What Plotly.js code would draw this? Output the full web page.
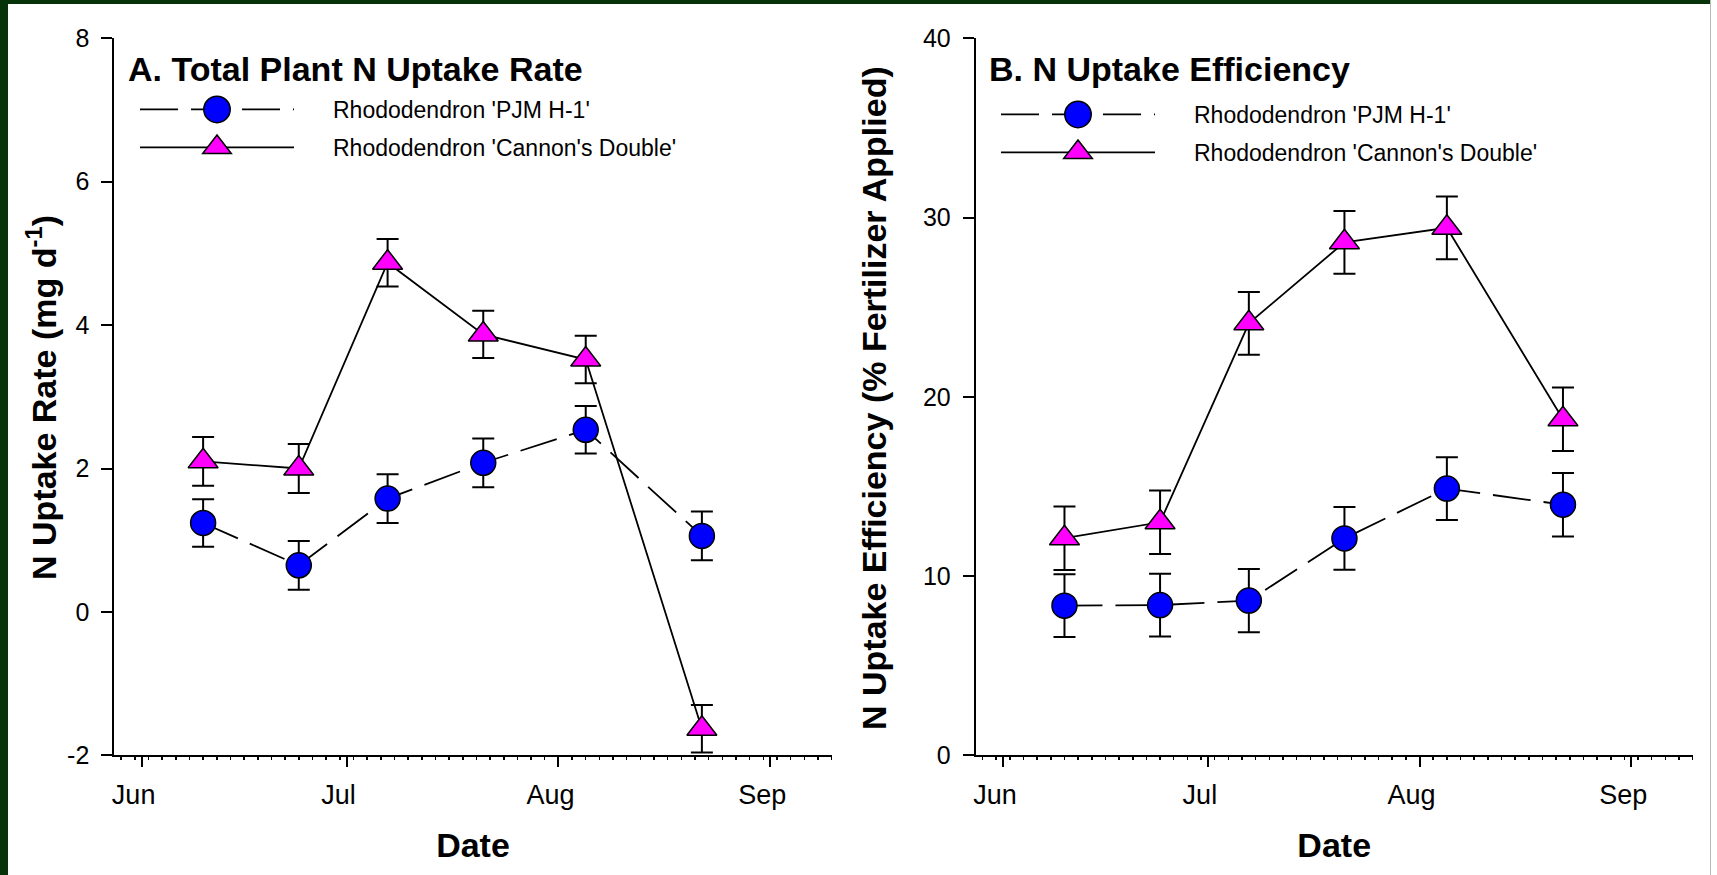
<!DOCTYPE html>
<html>
<head>
<meta charset="utf-8">
<script src="https://cdn.plot.ly/plotly-3.0.1.min.js"></script>
<style>
html,body{margin:0;padding:0;background:#fff;}
#wrap{position:relative;width:1717px;height:875px;overflow:hidden;background:#fff;}
#chart{position:absolute;left:0;top:0;width:1717px;height:875px;}
.band{position:absolute;background:#06330a;}
/* legend: longer sample line, text placed clear of it */
#chart text.legendtext, #chart text.legend2text{transform:translate(34px,0px);}
#chart g.scrollbox{clip-path:none !important;}
</style>
</head>
<body>
<div id="wrap">
  <div id="chart"></div>
  <div class="band" style="left:0;top:0;width:1711px;height:4px"></div>
  <div class="band" style="left:0;top:0;width:8px;height:875px"></div>
  <div style="position:absolute;left:1710px;top:0;width:1px;height:875px;background:#b4bcb4"></div>
</div>
<script>
// ---- data ----
const dates = ['2000-06-10', '2000-06-24', '2000-07-07', '2000-07-21', '2000-08-05', '2000-08-22'];
const pjmRate = [1.24, 0.65, 1.58, 2.08, 2.54, 1.06];
const pjmRateSE = [0.33, 0.34, 0.34, 0.34, 0.33, 0.34];
const cannonRate = [2.10, 2.00, 4.87, 3.87, 3.52, -1.63];
const cannonRateSE = [0.34, 0.34, 0.33, 0.33, 0.33, 0.33];
const pjmEff = [8.35, 8.38, 8.63, 12.10, 14.88, 13.98];
const pjmEffSE = [1.75, 1.75, 1.76, 1.75, 1.75, 1.77];
const cannonEff = [12.11, 13.00, 24.10, 28.62, 29.43, 18.75];
const cannonEffSE = [1.77, 1.77, 1.75, 1.75, 1.75, 1.77];
const seriesNames = ["Rhododendron 'PJM H-1'", "Rhododendron 'Cannon's Double'"];
const panelTitles = ['A. Total Plant N Uptake Rate', 'B. N Uptake Efficiency'];
const yTitles = ['N Uptake Rate (mg d<sup>-1</sup>)', 'N Uptake Efficiency (% Fertilizer Applied)'];
const xTitle = 'Date';
const yRanges = [[-2, 8], [0, 40]];
const yTickVals = [[-2, 0, 2, 4, 6, 8], [0, 10, 20, 30, 40]];
const yTickText = [['-2', '0', '2', '4', '6', '8'], ['0', '10', '20', '30', '40']];

// ---- style ----
const FONT = 'Liberation Sans, Arial, Helvetica, sans-serif';
const W = 1717, H = 875;
const xRange = ['2000-05-28', '2000-09-10'];
const xDomains = [[114.3 / W, 831.7 / W], [975.7 / W, 1692.7 / W]];
const yDom = [(H - 755.3) / H, (H - 38.3) / H];

function circleTrace(y, se, xa, ya, leg) {
  return {
    type: 'scatter', mode: 'lines+markers', x: dates, y: y, xaxis: xa, yaxis: ya,
    name: seriesNames[0], legend: leg, legendgroup: 'a' + leg,
    line: {color: '#000', width: 1.8, dash: '38px,13px'},
    marker: {symbol: 'circle', size: 25, color: '#0000ff', line: {color: '#000', width: 1.5}},
    error_y: {type: 'data', array: se, visible: true, color: '#000', thickness: 2, width: 11},
    cliponaxis: false
  };
}
function triTrace(y, se, xa, ya, leg) {
  return {
    type: 'scatter', mode: 'lines+markers', x: dates, y: y, xaxis: xa, yaxis: ya,
    name: seriesNames[1], legend: leg, legendgroup: 'b' + leg,
    line: {color: '#000', width: 1.8},
    marker: {symbol: 'triangle-up', size: 26, color: '#ff00ff', line: {color: '#000', width: 1.5}},
    error_y: {type: 'data', array: se, visible: true, color: '#000', thickness: 2, width: 11},
    cliponaxis: false
  };
}

const data = [
  circleTrace(pjmRate, pjmRateSE, 'x', 'y', 'legend'),
  triTrace(cannonRate, cannonRateSE, 'x', 'y', 'legend'),
  circleTrace(pjmEff, pjmEffSE, 'x2', 'y2', 'legend2'),
  triTrace(cannonEff, cannonEffSE, 'x2', 'y2', 'legend2')
];

const minorCommon = {dtick: 172800000, tick0: '2000-05-29', ticklen: 3, tickwidth: 1.5, tickcolor: '#000', showgrid: false};

function xMain(i, ya) {
  return {
    domain: xDomains[i], anchor: ya, type: 'date', range: xRange, autorange: false,
    tick0: '2000-06-01', dtick: 'M1', tickformat: '%b',
    ticks: 'outside', ticklen: 10, tickwidth: 2, tickcolor: '#000',
    showline: true, linewidth: 2, linecolor: '#000', showgrid: false, zeroline: false,
    tickfont: {family: FONT, size: 27, color: '#000'}, ticklabelshift: -8, ticklabelstandoff: 4,
    minor: Object.assign({ticks: 'outside'}, minorCommon),
    title: {text: '<b>' + xTitle + '</b>', font: {family: FONT, size: 34, color: '#000'}, standoff: 24},
    fixedrange: true
  };
}
function xInner(i, over, ya) {
  return {
    domain: xDomains[i], anchor: ya, overlaying: over, side: 'bottom', type: 'date', range: xRange, autorange: false,
    tick0: '2000-06-01', dtick: 'M1', ticks: 'inside', ticklen: 10, tickwidth: 2, tickcolor: '#000',
    showticklabels: false, showline: false, showgrid: false, zeroline: false,
    minor: Object.assign({ticks: 'inside'}, minorCommon), fixedrange: true
  };
}
function xTop(i, over, ya) {
  return {
    domain: xDomains[i], anchor: ya, overlaying: over, side: 'top', type: 'date', range: xRange, autorange: false,
    tick0: '2000-06-01', dtick: 'M1', ticks: 'inside', ticklen: 10, tickwidth: 2, tickcolor: '#000',
    showticklabels: false, showline: true, linewidth: 2, linecolor: '#000', showgrid: false, zeroline: false,
    fixedrange: true
  };
}
function yMain(i, xa) {
  return {
    domain: yDom, anchor: xa, range: yRanges[i], autorange: false,
    tickmode: 'array', tickvals: yTickVals[i], ticktext: yTickText[i],
    ticks: 'outside', ticklen: 11, tickwidth: 2, tickcolor: '#000',
    showline: true, linewidth: 2, linecolor: '#000', showgrid: false, zeroline: false,
    tickfont: {family: FONT, size: 25, color: '#000'}, ticklabelstandoff: 7,
    fixedrange: true
  };
}
function yInner(i, over, xa) {
  return {
    domain: yDom, anchor: xa, overlaying: over, side: 'left', range: yRanges[i], autorange: false,
    tickmode: 'array', tickvals: yTickVals[i],
    ticks: 'inside', ticklen: 11, tickwidth: 2, tickcolor: '#000',
    showticklabels: false, showline: false, showgrid: false, zeroline: false, fixedrange: true
  };
}
function yRight(i, over, xa) {
  return {
    domain: yDom, anchor: xa, overlaying: over, side: 'right', range: yRanges[i], autorange: false,
    tickmode: 'array', tickvals: yTickVals[i],
    ticks: 'inside', ticklen: 10, tickwidth: 2, tickcolor: '#000',
    showticklabels: false, showline: true, linewidth: 2, linecolor: '#000', showgrid: false, zeroline: false, fixedrange: true
  };
}

function panelTitle(i, xa, ya) {
  return {
    xref: xa + ' domain', yref: ya + ' domain', x: (126 - 114.3) / 717.4, y: (755.3 - 69) / 717,
    xanchor: 'left', yanchor: 'middle', showarrow: false,
    text: '<b>' + panelTitles[i] + '</b>', font: {family: FONT, size: 34, color: '#000'}
  };
}
function yTitle(i, xpx) {
  return {
    xref: 'paper', yref: 'paper', x: xpx / W, y: (H - 398) / H,
    xanchor: 'center', yanchor: 'middle', textangle: -90, showarrow: false,
    text: '<b>' + yTitles[i] + '</b>', font: {family: FONT, size: 34, color: '#000'}
  };
}
function legendBox(xpx, ypx) {
  return {
    x: xpx / W, y: (H - ypx) / H, xanchor: 'left', yanchor: 'top',
    font: {family: FONT, size: 23, color: '#000'}, itemwidth: 154, tracegroupgap: 5,
    bgcolor: 'rgba(0,0,0,0)', borderwidth: 0, traceorder: 'grouped', valign: 'middle'
  };
}

const layout = {
  width: W, height: H, margin: {l: 0, r: 0, t: 0, b: 0},
  paper_bgcolor: '#fff', plot_bgcolor: 'rgba(0,0,0,0)', showlegend: true, hovermode: false,
  font: {family: FONT, color: '#000'},
  xaxis: xMain(0, 'y'), xaxis2: xMain(1, 'y2'),
  xaxis3: xInner(0, 'x', 'y'), xaxis4: xInner(1, 'x2', 'y2'),
  xaxis5: xTop(0, 'x', 'y'), xaxis6: xTop(1, 'x2', 'y2'),
  yaxis: yMain(0, 'x'), yaxis2: yMain(1, 'x2'),
  yaxis3: yInner(0, 'y', 'x'), yaxis4: yInner(1, 'y2', 'x2'),
  yaxis5: yRight(0, 'y', 'x'), yaxis6: yRight(1, 'y2', 'x2'),
  legend: legendBox(135, 88), legend2: legendBox(996, 93),
  annotations: [panelTitle(0, 'x', 'y'), panelTitle(1, 'x2', 'y2'), yTitle(0, 41), yTitle(1, 874)]
};

// enlarge the legend sample symbols to the size of the plotted markers
function fixLegendMarkers() {
  var gd = document.getElementById('chart');
  gd.querySelectorAll('g.legendpoints path.scatterpts').forEach(function (p) {
    var tf = p.getAttribute('transform') || '';
    if (tf.indexOf('scale(') < 0) {
      var isTri = (p.getAttribute('d') || '').indexOf('H') >= 0;
      p.setAttribute('transform', tf + ' scale(' + (isTri ? 1.55 : 1.65) + ')');
      p.style.vectorEffect = 'non-scaling-stroke';
    }
  });
}

Plotly.newPlot('chart', data, layout, {staticPlot: true, displayModeBar: false}).then(function (gd) {
  fixLegendMarkers();
  gd.on('plotly_afterplot', fixLegendMarkers);
  requestAnimationFrame(fixLegendMarkers);
  setTimeout(fixLegendMarkers, 30);
  setTimeout(fixLegendMarkers, 200);
});
</script>
</body>
</html>
